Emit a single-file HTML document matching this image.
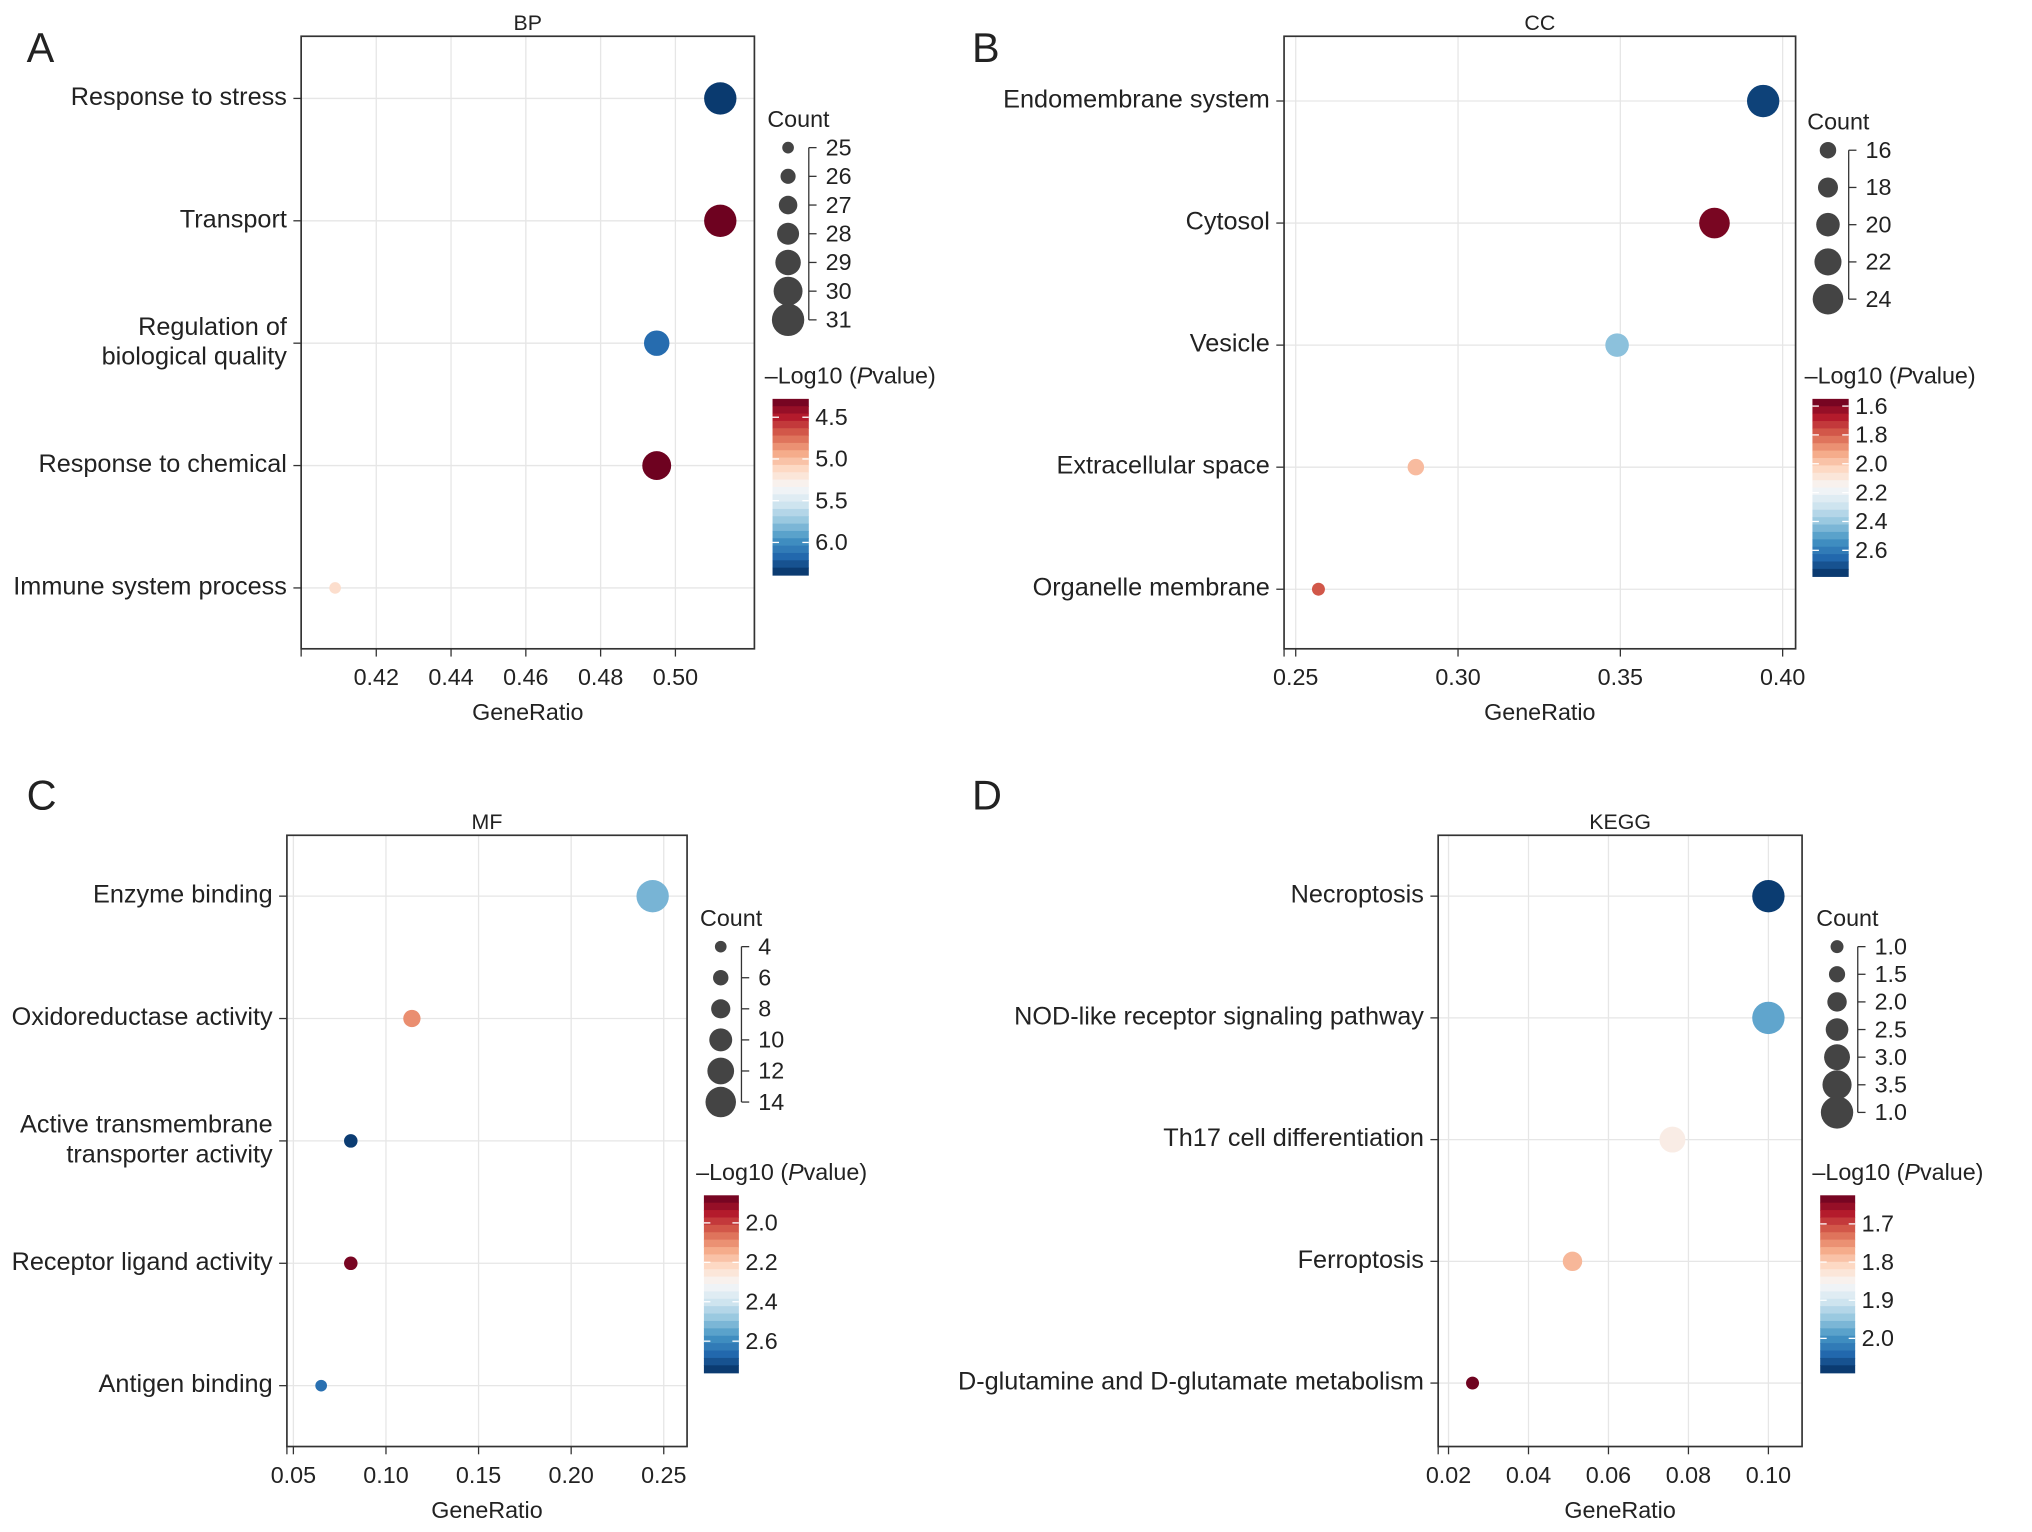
<!DOCTYPE html>
<html><head><meta charset="utf-8"><style>
html,body{margin:0;padding:0;background:#fff}
svg{display:block}
text{font-family:"Liberation Sans",Arial,sans-serif;fill:#222}
</style></head><body>
<svg id="chart" width="2032" height="1532" viewBox="0 0 1568 1183" xmlns="http://www.w3.org/2000/svg"></svg>
<script>
// Panel A (BP)
const bpTerms=["Response to stress","Transport","Regulation of|biological quality","Response to chemical","Immune system process"];
const bpRatio=[0.512,0.512,0.495,0.495,0.409];
const bpCount=[31,31,29,30,25];
const bpLogP=[6.35,4.3,6.15,4.3,5.15];
const bpXTicks=[0.42,0.44,0.46,0.48,0.50];
const bpCountTicks=[25,26,27,28,29,30,31];
const bpColorTicks=[4.5,5.0,5.5,6.0];
// Panel B (CC)
const ccTerms=["Endomembrane system","Cytosol","Vesicle","Extracellular space","Organelle membrane"];
const ccRatio=[0.394,0.379,0.349,0.287,0.257];
const ccCount=[25,24,20,16,14];
const ccLogP=[2.74,1.58,2.42,1.97,1.78];
const ccXTicks=[0.25,0.30,0.35,0.40];
const ccCountTicks=[16,18,20,22,24];
const ccColorTicks=[1.6,1.8,2.0,2.2,2.4,2.6];
// Panel C (MF)
const mfTerms=["Enzyme binding","Oxidoreductase activity","Active transmembrane|transporter activity","Receptor ligand activity","Antigen binding"];
const mfRatio=[0.244,0.114,0.081,0.081,0.065];
const mfCount=[15,7,5,5,4];
const mfLogP=[2.52,2.1,2.74,1.88,2.65];
const mfXTicks=[0.05,0.10,0.15,0.20,0.25];
const mfCountTicks=[4,6,8,10,12,14];
const mfColorTicks=[2.0,2.2,2.4,2.6];
// Panel D (KEGG)
const kgTerms=["Necroptosis","NOD-like receptor signaling pathway","Th17 cell differentiation","Ferroptosis","D-glutamine and D-glutamate metabolism"];
const kgRatio=[0.100,0.100,0.076,0.051,0.026];
const kgCount=[4,4,3,2,1];
const kgLogP=[2.08,1.98,1.84,1.78,1.63];
const kgXTicks=[0.02,0.04,0.06,0.08,0.10];
const kgCountTicks=[1.0,1.5,2.0,2.5,3.0,3.5,4.0];
const kgCountLabels=["1.0","1.5","2.0","2.5","3.0","3.5","1.0"];
const kgColorTicks=[1.7,1.8,1.9,2.0];

const NS="http://www.w3.org/2000/svg";
const svg=document.getElementById('chart');
function mk(tag,attrs,parent){const e=document.createElementNS(NS,tag);for(const k in attrs)e.setAttribute(k,attrs[k]);(parent||svg).appendChild(e);return e;}
const stops=["#67001f","#b2182b","#d6604d","#f4a582","#fddbc7","#f7f7f7","#d1e5f0","#92c5de","#4393c3","#2166ac","#053061"];
function hex(h){return [1,3,5].map(i=>parseInt(h.substr(i,2),16));}
function rdbu(t){t=Math.max(0,Math.min(1,t));const p=t*(stops.length-1);const i=Math.min(Math.floor(p),stops.length-2);const f=p-i;const a=hex(stops[i]),b=hex(stops[i+1]);return 'rgb('+a.map((v,k)=>Math.round(v+(b[k]-v)*f)).join(',')+')';}

function panel(cfg){
  const g=mk('g',{});
  
  
  const L=mk('text',{x:cfg.lx,y:cfg.ly,'font-size':32},g);L.textContent=cfg.letter;
  
  const {x0,x1,y0,y1}=cfg;
  const xs=v=>cfg.px0+(v-cfg.v0)*(cfg.px1-cfg.px0)/(cfg.v1-cfg.v0);
  const yrow=i=>cfg.r0+i*(cfg.r1-cfg.r0)/(cfg.terms.length-1);
  const T=mk('text',{x:(x0+x1)/2,y:y0-5,'font-size':16.5,'text-anchor':'middle'},g);T.textContent=cfg.title;
  
  cfg.xticks.forEach(v=>{const gl=mk('line',{x1:xs(v),x2:xs(v),y1:y0,y2:y1,stroke:'#e6e6e6','stroke-width':1},g);
    });
  cfg.terms.forEach((t,i)=>{const gl=mk('line',{x1:x0,x2:x1,y1:yrow(i),y2:yrow(i),stroke:'#e6e6e6','stroke-width':1},g);
    });
  const box=mk('rect',{x:x0,y:y0,width:x1-x0,height:y1-y0,fill:'none',stroke:'#333','stroke-width':1.3},g);
  
  cfg.xticks.forEach(v=>{mk('line',{x1:xs(v),x2:xs(v),y1:y1,y2:y1+6,stroke:'#333'},g);
    const tx=mk('text',{x:xs(v),y:y1+28,'font-size':18,'text-anchor':'middle'},g);tx.textContent=v.toFixed(2);
    });
  mk('line',{x1:x0,x2:x0,y1:y1,y2:y1+6,stroke:'#333'},g);
  const xt=mk('text',{x:(x0+x1)/2,y:y1+55,'font-size':18,'text-anchor':'middle'},g);xt.textContent='GeneRatio';
  
  cfg.terms.forEach((t,i)=>{const y=yrow(i);mk('line',{x1:x0-6,x2:x0,y1:y,y2:y,stroke:'#333'},g);
    const parts=t.split('|');
    parts.forEach((p,k)=>{const tx=mk('text',{x:x0-11,y:y+5+(k-(parts.length-1)/2)*23,'font-size':19.5,'text-anchor':'end'},g);tx.textContent=p;
      });});
  const rs=c=>cfg.rmin+(c-cfg.cmin)/(cfg.cmax-cfg.cmin)*(cfg.rmax-cfg.rmin);
  const ct=v=>(v-cfg.lv0)/(cfg.lv1-cfg.lv0);
  cfg.terms.forEach((t,i)=>{const c=mk('circle',{cx:xs(cfg.ratio[i]),cy:yrow(i),r:rs(cfg.count[i]),fill:rdbu(ct(cfg.logp[i]))},g);
    });
  // size legend
  const ct1=mk('text',{x:cfg.sx-16,y:cfg.sy0-16,'font-size':18},g);ct1.textContent='Count';
  
  const sy=i=>cfg.sy0+i*(cfg.sy1-cfg.sy0)/(cfg.countTicks.length-1);
  mk('line',{x1:cfg.sx+16,x2:cfg.sx+16,y1:sy(0),y2:sy(cfg.countTicks.length-1),stroke:'#333'},g);
  cfg.countTicks.forEach((c,i)=>{const d=mk('circle',{cx:cfg.sx,cy:sy(i),r:rs(c),fill:'#444'},g);
    
    mk('line',{x1:cfg.sx+16,x2:cfg.sx+22,y1:sy(i),y2:sy(i),stroke:'#333'},g);
    const tx=mk('text',{x:cfg.sx+29,y:sy(i)+6,'font-size':18},g);tx.textContent=cfg.countLabels?cfg.countLabels[i]:String(c);
    });
  // colorbar
  const cb=cfg.cb;
  const ctl=mk('text',{x:cb.x-6,y:cb.y0-12,'font-size':18},g);
  ctl.innerHTML='–Log10 (<tspan font-style="italic">P</tspan>value)';
  
  const n=24,h=(cb.y1-cb.y0)/n;
  for(let i=0;i<n;i++){const r=mk('rect',{x:cb.x,y:cb.y0+i*h,width:cb.w,height:h+0.5,fill:rdbu((i+0.5)/n)},g);
    }
  const cy=v=>cb.y0+ct(v)*(cb.y1-cb.y0);
  cfg.colorTicks.forEach(v=>{mk('line',{x1:cb.x+cb.w-5,x2:cb.x+cb.w,y1:cy(v),y2:cy(v),stroke:'#fff'},g);
    mk('line',{x1:cb.x,x2:cb.x+5,y1:cy(v),y2:cy(v),stroke:'#fff'},g);
    const tx=mk('text',{x:cb.x+cb.w+5,y:cy(v)+6,'font-size':18},g);tx.textContent=v.toFixed(1);
    });
}
panel({name:'bp',letter:'A',lx:20,ly:48,title:'BP',x0:232,x1:582,y0:28,y1:501,px0:290,px1:521,v0:0.42,v1:0.50,r0:76,r1:454,
  terms:bpTerms,ratio:bpRatio,count:bpCount,logp:bpLogP,xticks:bpXTicks,countTicks:bpCountTicks,colorTicks:bpColorTicks,
  cmin:25,cmax:31,rmin:4.5,rmax:12.5,lv0:4.28,lv1:6.39,sx:608,sy0:114,sy1:247,cb:{x:596,w:28,y0:308,y1:444}});
panel({name:'cc',letter:'B',lx:750,ly:48,title:'CC',x0:991,x1:1386,y0:28,y1:501,px0:1000,px1:1376,v0:0.25,v1:0.40,r0:78,r1:455,
  terms:ccTerms,ratio:ccRatio,count:ccCount,logp:ccLogP,xticks:ccXTicks,countTicks:ccCountTicks,colorTicks:ccColorTicks,
  cmin:14,cmax:25,rmin:5,rmax:12.5,lv0:1.55,lv1:2.78,sx:1411,sy0:116,sy1:231,cb:{x:1399,w:28,y0:308,y1:445}});
panel({name:'mf',letter:'C',lx:20,ly:625,title:'MF',x0:221,x1:530,y0:645,y1:1117,px0:226,px1:512,v0:0.05,v1:0.25,r0:692,r1:1070,
  terms:mfTerms,ratio:mfRatio,count:mfCount,logp:mfLogP,xticks:mfXTicks,countTicks:mfCountTicks,colorTicks:mfColorTicks,
  cmin:4,cmax:15,rmin:4.5,rmax:12.5,lv0:1.86,lv1:2.76,sx:556,sy0:731,sy1:851,cb:{x:543,w:27,y0:923,y1:1060}});
panel({name:'kegg',letter:'D',lx:750,ly:625,title:'KEGG',x0:1110,x1:1391,y0:645,y1:1117,px0:1118,px1:1365,v0:0.02,v1:0.10,r0:692,r1:1068,
  terms:kgTerms,ratio:kgRatio,count:kgCount,logp:kgLogP,xticks:kgXTicks,countTicks:kgCountTicks,countLabels:kgCountLabels,colorTicks:kgColorTicks,
  cmin:1,cmax:4,rmin:5,rmax:12.5,lv0:1.625,lv1:2.09,sx:1418,sy0:731,sy1:859,cb:{x:1405,w:27,y0:923,y1:1060}});
</script>
</body></html>
